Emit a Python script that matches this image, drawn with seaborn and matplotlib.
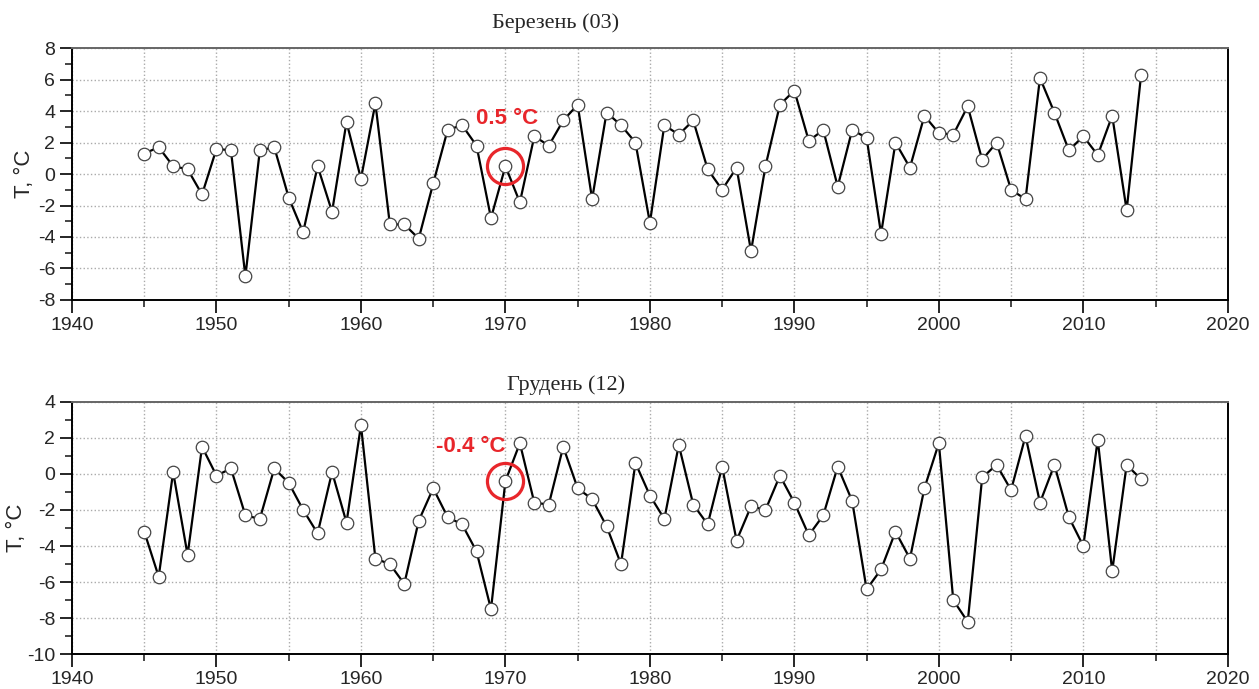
import numpy as np
import pandas as pd
import matplotlib
matplotlib.use("Agg")
import matplotlib.pyplot as plt
from matplotlib.ticker import MultipleLocator
import seaborn as sns

# Monthly mean air temperature, 1945-2014
years = list(range(1945, 2015))

march = [1.3, 1.7, 0.5, 0.3, -1.3, 1.6, 1.5, -6.5, 1.5, 1.7,
         -1.5, -3.7, 0.5, -2.4, 3.3, -0.3, 4.5, -3.2, -3.2, -4.1,
         -0.6, 2.8, 3.1, 1.8, -2.8, 0.5, -1.8, 2.4, 1.8, 3.4,
         4.4, -1.6, 3.9, 3.1, 2.0, -3.1, 3.1, 2.5, 3.4, 0.3,
         -1.0, 0.4, -4.9, 0.5, 4.4, 5.3, 2.1, 2.8, -0.8, 2.8,
         2.3, -3.8, 2.0, 0.4, 3.7, 2.6, 2.5, 4.3, 0.9, 2.0,
         -1.0, -1.6, 6.1, 3.9, 1.5, 2.4, 1.2, 3.7, -2.3, 6.3]

december = [-3.2, -5.7, 0.1, -4.5, 1.5, -0.1, 0.3, -2.3, -2.5, 0.3,
            -0.5, -2.0, -3.3, 0.1, -2.7, 2.7, -4.7, -5.0, -6.1, -2.6,
            -0.8, -2.4, -2.8, -4.3, -7.5, -0.4, 1.7, -1.6, -1.7, 1.5,
            -0.8, -1.4, -2.9, -5.0, 0.6, -1.2, -2.5, 1.6, -1.7, -2.8,
            0.4, -3.7, -1.8, -2.0, -0.1, -1.6, -3.4, -2.3, 0.4, -1.5,
            -6.4, -5.3, -3.2, -4.7, -0.8, 1.7, -7.0, -8.2, -0.2, 0.5,
            -0.9, 2.1, -1.6, 0.5, -2.4, -4.0, 1.9, -5.4, 0.5, -0.3]

titles = ["Березень (03)", "Грудень (12)"]
highlight_year = 1970
highlight_text = ["0.5 °C", "-0.4 °C"]

sns.set_style("ticks")
plt.rcParams["font.family"] = ["Liberation Sans", "DejaVu Sans"]
plt.rcParams["axes.unicode_minus"] = False

fig = plt.figure(figsize=(12.59, 6.89), dpi=100)
ax_top = fig.add_axes([0.0572, 0.5646, 0.918, 0.3657])
ax_bot = fig.add_axes([0.0572, 0.0504, 0.918, 0.3666])

panels = [
    (ax_top, march, (-8, 8), (1970.1, 3.5), 0.441, 0.966, -0.032),
    (ax_bot, december, (-10, 4), (1967.6, 1.5), 0.450, 0.441, -0.039),
]

for i, (ax, vals, ylim, txt_pos, tx, ty, lx) in enumerate(panels):
    df = pd.DataFrame({"year": years, "T": vals})
    sns.lineplot(data=df, x="year", y="T", ax=ax, color="black", lw=1.6,
                 marker="o", markersize=9, markerfacecolor="white",
                 markeredgecolor="#444444", markeredgewidth=0.9, zorder=3)

    # red circle around the highlighted year
    hv = vals[years.index(highlight_year)]
    ax.plot([highlight_year], [hv], marker="o", markersize=26,
            markerfacecolor="none", markeredgecolor="#e8262b",
            markeredgewidth=2.3, zorder=4)
    ax.text(txt_pos[0], txt_pos[1], highlight_text[i], color="#e8262b",
            fontsize=16, fontweight="bold", ha="center", va="center", zorder=5)

    ax.set_xlim(1940, 2020)
    ax.set_ylim(*ylim)
    ax.xaxis.set_major_locator(MultipleLocator(10))
    ax.xaxis.set_minor_locator(MultipleLocator(5))
    ax.yaxis.set_major_locator(MultipleLocator(2))
    ax.yaxis.set_minor_locator(MultipleLocator(1))
    ax.tick_params(axis="both", which="major", direction="out", length=9,
                   width=1.4, labelsize=14, pad=3)
    ax.tick_params(axis="both", which="minor", direction="out", length=5,
                   width=1.2)
    ax.grid(True, which="major", axis="y", linestyle=":", color="#aaaaaa", lw=1)
    ax.grid(True, which="minor", axis="x", linestyle=":", color="#aaaaaa", lw=1)
    ax.grid(True, which="major", axis="x", linestyle=":", color="#aaaaaa", lw=1)
    for side in ["top", "right", "bottom", "left"]:
        ax.spines[side].set_visible(True)
        ax.spines[side].set_linewidth(1.4)
        ax.spines[side].set_color("black")
    ax.spines["top"].set_color("#666666")
    ax.set_xlabel("")
    ax.set_ylabel("T, °C", fontsize=16)
    ax.yaxis.set_label_coords(lx, 0.5)

    fig.text(tx, ty, titles[i], family="Liberation Serif", fontsize=16,
             ha="center", va="center")

fig.savefig("out.png", dpi=100)
